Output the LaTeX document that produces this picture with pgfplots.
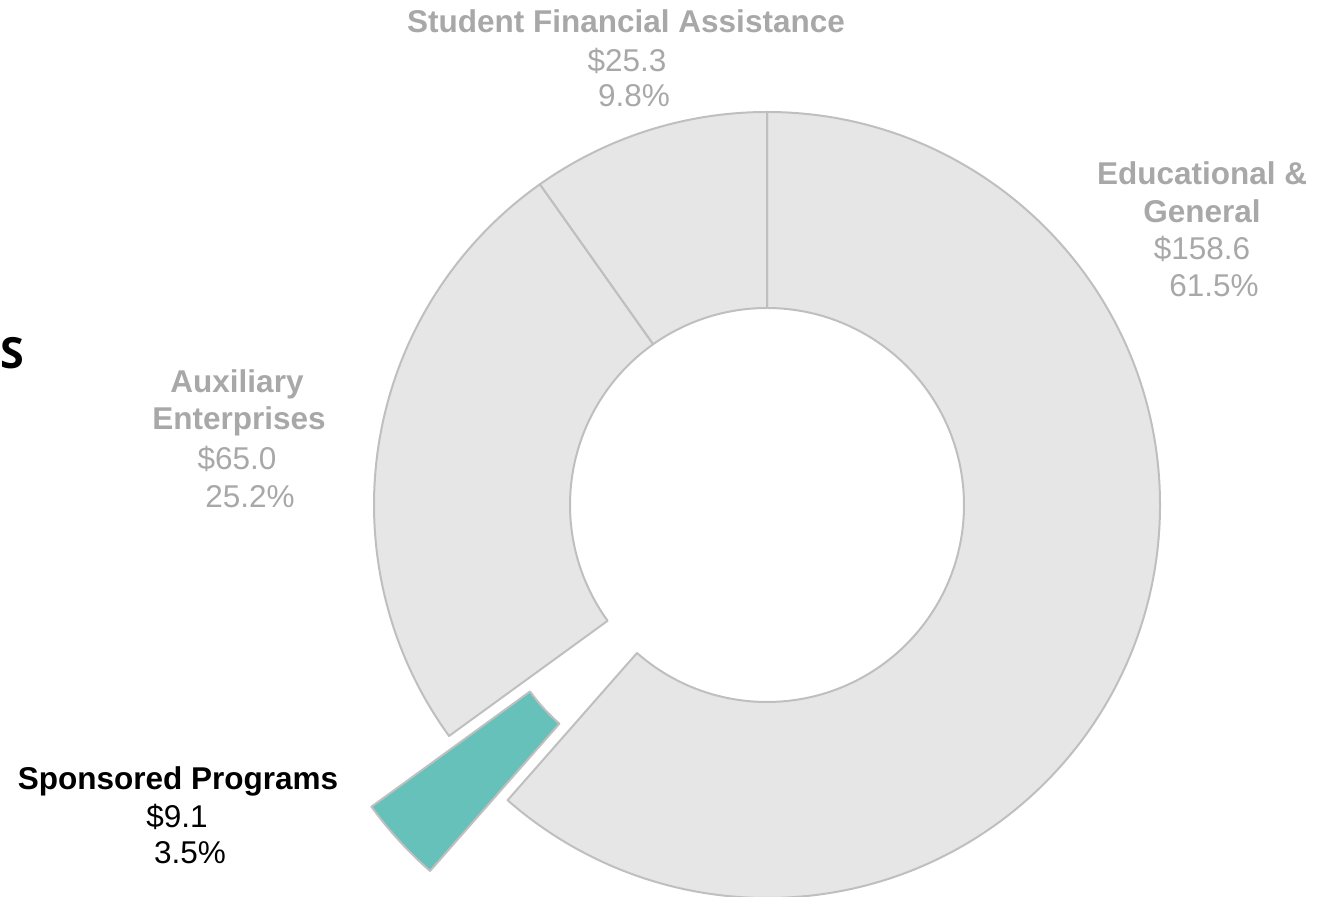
\documentclass[border=0pt]{standalone}
\usepackage{pgfplots}
\pgfplotsset{compat=1.18}
\usepackage{pgfplotstable}
\usepackage{fontspec}
\setmainfont{Liberation Sans}
\newfontfamily\sfont{Open Sans}
\usetikzlibrary{calc}
\definecolor{slicegray}{HTML}{E6E6E6}
\definecolor{edgegray}{HTML}{BFBFBF}
\definecolor{spteal}{HTML}{65C1B9}
\definecolor{labgray}{HTML}{A8A8A8}

% slice values ($ millions), share (%), explode offset (px)
\pgfplotstableread{
value pct explode
158.6 61.5 0
9.1   3.5  105
65.0  25.2 0
25.3  9.8  0
}\budget

\newcommand\sector[4]{%
  \draw[#1] ($(axis cs:767,391)+({(#2+#3)/2}:#4pt)+(#2:393pt)$)
     arc[start angle=#2, end angle=#3, radius=393pt]
     -- ($(axis cs:767,391)+({(#2+#3)/2}:#4pt)+(#3:197pt)$)
     arc[start angle=#3, end angle=#2, radius=197pt] -- cycle;}

\newcommand\lbl[4]{\node[anchor=base, inner sep=0pt, text=#1] at (axis cs:#2,#3) {#4};}

\begin{document}
\begin{tikzpicture}
\pgfplotstablegetelem{0}{value}\of\budget\let\vA\pgfplotsretval
\pgfplotstablegetelem{1}{value}\of\budget\let\vB\pgfplotsretval
\pgfplotstablegetelem{2}{value}\of\budget\let\vC\pgfplotsretval
\pgfplotstablegetelem{3}{value}\of\budget\let\vD\pgfplotsretval
\pgfplotstablegetelem{1}{explode}\of\budget\let\eB\pgfplotsretval
\pgfmathsetmacro\tot{\vA+\vB+\vC+\vD}
\pgfmathsetmacro\aA{90}
\pgfmathsetmacro\aB{\aA-360*(\vA/\tot)}
\pgfmathsetmacro\aC{\aB-360*(\vB/\tot)}
\pgfmathsetmacro\aD{\aC-360*(\vC/\tot)}
\pgfmathsetmacro\aE{\aD-360*(\vD/\tot)}
\begin{axis}[x=1pt, y=1pt, xmin=0, xmax=1337, ymin=0, ymax=896,
  hide axis, clip=false]
\coordinate (ll) at (axis cs:0,0);
\coordinate (ur) at (axis cs:1337,896);
\sector{fill=slicegray, draw=edgegray, line width=2pt, line join=round}{\aA}{\aB}{0}
\sector{fill=slicegray, draw=edgegray, line width=2pt, line join=round}{\aC}{\aD}{0}
\sector{fill=slicegray, draw=edgegray, line width=2pt, line join=round}{\aD}{\aE}{0}
\sector{fill=spteal, draw=edgegray, line width=2pt, line join=round}{\aB}{\aC}{\eB}

\fontsize{31.5}{37}\selectfont
% Student Financial Assistance
\lbl{labgray}{626}{863}{\bfseries Student Financial Assistance}
\lbl{labgray}{627}{824}{\$25.3}
\lbl{labgray}{634}{789}{9.8\%}
% Educational & General
\lbl{labgray}{1202}{711}{\bfseries Educational \&}
\lbl{labgray}{1202}{673}{\bfseries General}
\lbl{labgray}{1202}{636}{\$158.6}
\lbl{labgray}{1214}{599}{61.5\%}
% Auxiliary Enterprises
\lbl{labgray}{237}{503}{\bfseries Auxiliary}
\lbl{labgray}{239}{466}{\bfseries Enterprises}
\lbl{labgray}{237}{426}{\$65.0}
\lbl{labgray}{250}{388}{25.2\%}
% Sponsored Programs
\lbl{black}{178}{106}{\bfseries Sponsored Programs}
\lbl{black}{177}{68}{\$9.1}
\lbl{black}{190}{33}{3.5\%}
% clipped title letter
\node[anchor=base west, inner sep=0pt, font=\sfont\bfseries\fontsize{43}{48}\selectfont] at (axis cs:0,527) {S};
\end{axis}
\pgfresetboundingbox
\path[use as bounding box] (ll) rectangle (ur);
\end{tikzpicture}
\end{document}
